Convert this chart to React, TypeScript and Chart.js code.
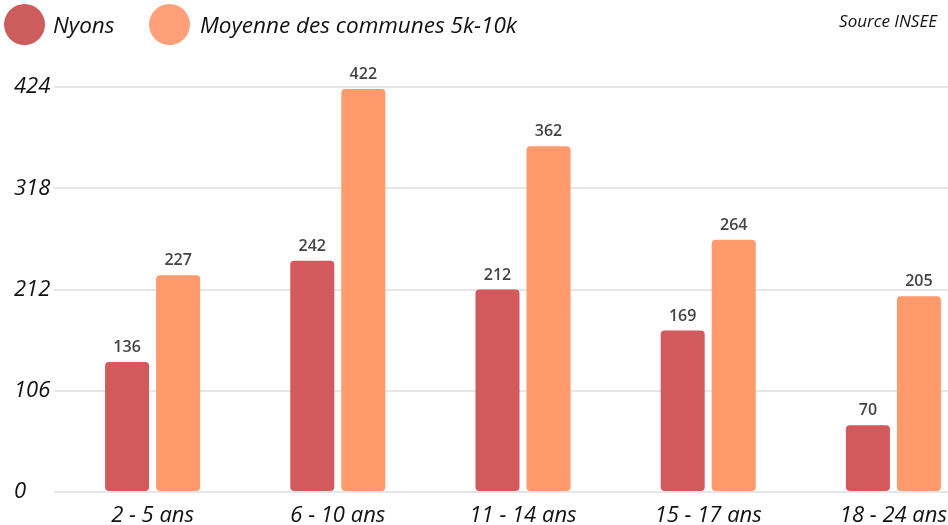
import React, { useEffect, useRef } from "react";
import { Chart, registerables } from "chart.js";

Chart.register(...registerables);

const categories = ["2 - 5 ans", "6 - 10 ans", "11 - 14 ans", "15 - 17 ans", "18 - 24 ans"];
const nyonsValues = [136, 242, 212, 169, 70];
const moyenneValues = [227, 422, 362, 264, 205];
const seriesNames = ["Nyons", "Moyenne des communes 5k-10k"];
const yTicks = [0, 106, 212, 318, 424];
const sourceText = "Source INSEE";

const NYONS_BAR = "#d2595c";
const MOY_BAR = "#fe9a6c";
const NYONS_LEG = "#cd5c5c";
const MOY_LEG = "#ffa07a";
const FONT = "'Open Sans', sans-serif";

const valueLabels = {
  id: "valueLabels",
  afterDatasetsDraw(chart: any) {
    const ctx = chart.ctx;
    ctx.save();
    ctx.font = `600 16px ${FONT}`;
    ctx.fillStyle = "#444444";
    ctx.textAlign = "center";
    ctx.textBaseline = "alphabetic";
    chart.data.datasets.forEach((ds: any, i: number) => {
      const meta = chart.getDatasetMeta(i);
      meta.data.forEach((el: any, j: number) => {
        ctx.fillText(String(ds.data[j]), el.x, el.y - 10);
      });
    });
    ctx.restore();
  },
};

export default function App() {
  const canvasRef = useRef<HTMLCanvasElement | null>(null);

  useEffect(() => {
    if (!canvasRef.current) return;
    const chart = new Chart(canvasRef.current, {
      type: "bar",
      data: {
        labels: categories,
        datasets: [
          {
            label: seriesNames[0],
            data: nyonsValues,
            backgroundColor: NYONS_BAR,
            borderRadius: 4,
            borderSkipped: false,
            categoryPercentage: 0.551,
            barPercentage: 0.863,
          },
          {
            label: seriesNames[1],
            data: moyenneValues,
            backgroundColor: MOY_BAR,
            borderRadius: 4,
            borderSkipped: false,
            categoryPercentage: 0.551,
            barPercentage: 0.863,
          },
        ],
      },
      options: {
        animation: false,
        responsive: false,
        maintainAspectRatio: false,
        layout: { padding: { top: 87, left: 14, right: 4, bottom: 3 } },
        plugins: {
          legend: { display: false },
          tooltip: { enabled: false },
        },
        scales: {
          x: {
            grid: { display: false },
            border: { display: false },
            ticks: {
              color: "#111111",
              font: { family: FONT, size: 22, style: "italic" },
              padding: 3,
              maxRotation: 0,
              autoSkip: false,
            },
            afterFit(scale: any) {
              scale.height = 30;
            },
          },
          y: {
            min: 0,
            max: 424,
            afterBuildTicks(scale: any) {
              scale.ticks = yTicks.map((v) => ({ value: v }));
            },
            grid: {
              color: "#e6e6e6",
              lineWidth: 2,
              drawTicks: true,
              tickLength: 6,
            },
            border: { display: false },
            ticks: {
              color: "#111111",
              crossAlign: "far",
              font: { family: FONT, size: 22, style: "italic" },
            },
            afterFit(scale: any) {
              scale.width = 46;
            },
          },
        },
      },
      plugins: [valueLabels],
    } as any);
    return () => chart.destroy();
  }, []);

  const circle = (left: number, color: string): React.CSSProperties => ({
    position: "absolute",
    left,
    top: 4,
    width: 41,
    height: 41,
    borderRadius: "50%",
    background: color,
  });
  const legText = (left: number): React.CSSProperties => ({
    position: "absolute",
    left,
    top: 25,
    transform: "translateY(-50%)",
    fontFamily: FONT,
    fontStyle: "italic",
    fontSize: 22.5,
    color: "#111111",
    whiteSpace: "nowrap",
    lineHeight: 1,
  });

  return (
    <div
      style={{
        position: "fixed",
        left: 0,
        top: 0,
        width: 948,
        height: 525,
        overflow: "hidden",
        background: "#ffffff",
      }}
    >
      <div style={{ position: "absolute", left: 0, top: 0, width: 990, height: 525 }}>
        <canvas ref={canvasRef} width={990} height={525} style={{ width: 990, height: 525, display: "block" }} />
      </div>
      <div style={circle(4, NYONS_LEG)} />
      <div style={legText(53)}>{seriesNames[0]}</div>
      <div style={circle(149, MOY_LEG)} />
      <div style={legText(200)}>{seriesNames[1]}</div>
      <div
        style={{
          position: "absolute",
          right: 11,
          top: 20,
          transform: "translateY(-50%)",
          fontFamily: FONT,
          fontStyle: "italic",
          fontSize: 17,
          color: "#111111",
          whiteSpace: "nowrap",
          lineHeight: 1,
        }}
      >
        {sourceText}
      </div>
    </div>
  );
}
